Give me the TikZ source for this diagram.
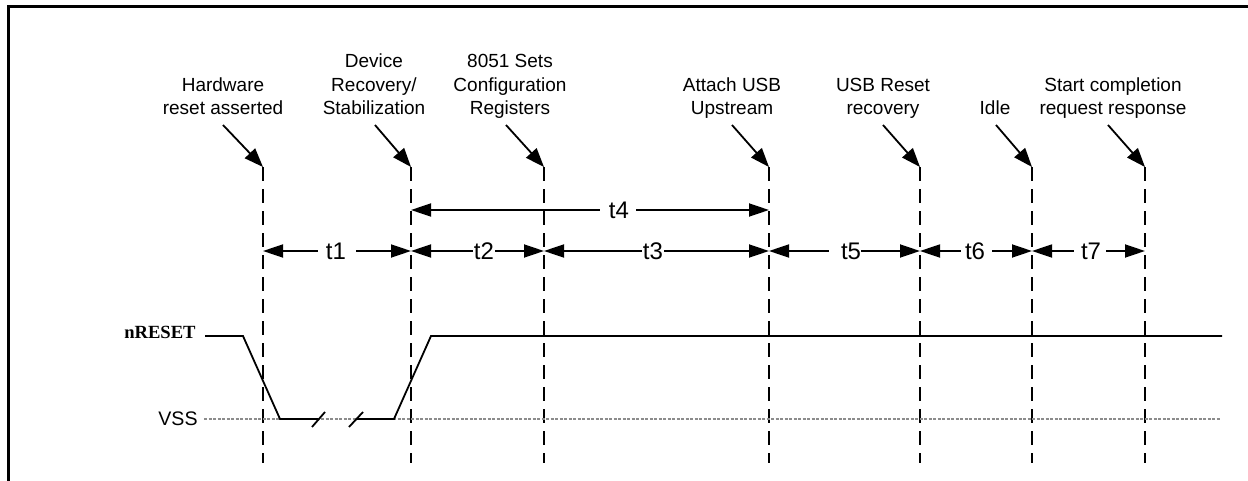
\documentclass[tikz,border=0pt]{standalone}
\usepackage{fontspec}
\setmainfont{Liberation Sans}
\newfontfamily\serifbold{Liberation Serif}
\usetikzlibrary{arrows.meta}
\begin{document}
\begin{tikzpicture}[x=0.5pt,y=-0.5pt,
  lbl/.style={align=center,font=\fontsize{9.5}{11.75}\selectfont,inner sep=0pt,text depth=0pt,anchor=south},
  tl/.style={font=\fontsize{12}{14}\selectfont,inner sep=0pt},
  ann/.style={line width=0.9pt,-{Triangle[length=9.5pt,width=7pt]}},
  dim/.style={line width=0.9pt,-{Triangle[length=10pt,width=6.5pt]}},
  vline/.style={line width=1.4pt,dash pattern=on 7pt off 4pt},
  wave/.style={line width=0.9pt},
  vss/.style={line width=1.1pt,color=black!45,dash pattern=on 1.5pt off 0.75pt},
  frame/.style={line width=1.5pt}]
\useasboundingbox (0,0) rectangle (1248,481);
\draw[frame] (8,481) -- (8,7) -- (1248,7);

% vertical dashed marker lines
\foreach \i/\x in {1/263,2/411,3/544,4/769,5/920,6/1032,7/1145}{
  \coordinate (L\i) at (\x,167);
  \coordinate (B\i) at (\x,463);
  \draw[vline] (L\i) -- (B\i);
}

% event labels
\node[lbl] (h1) at (223,115) {Hardware\\reset asserted};
\node[lbl] (h2) at (374,115) {Device\\Recovery/\\Stabilization};
\node[lbl] (h3) at (510,115) {8051 Sets\\Configuration\\Registers};
\node[lbl] (h4) at (732,115) {Attach USB\\Upstream};
\node[lbl] (h5) at (883,115) {USB Reset\\recovery};
\node[lbl] (h6) at (995,115) {Idle};
\node[lbl] (h7) at (1113,115) {Start completion\\request response};

\draw[ann] ([yshift=-5pt]h1.south) -- (L1);
\draw[ann] ([xshift=0.5pt,yshift=-5pt]h2.south) -- (L2);
\draw[ann] ([xshift=-2pt,yshift=-5pt]h3.south) -- (L3);
\draw[ann] ([yshift=-5pt]h4.south) -- (L4);
\draw[ann] ([yshift=-5pt]h5.south) -- (L5);
\draw[ann] ([xshift=0.5pt,yshift=-5pt]h6.south) -- (L6);
\draw[ann] ([xshift=-2.5pt,yshift=-5pt]h7.south) -- (L7);

% interval labels
\node[tl] (t1) at (336,251) {t1};
\node[tl] (t2) at (484,251) {t2};
\node[tl] (t3) at (653,251) {t3};
\node[tl] (t4) at (619,210) {t4};
\node[tl] (t5) at (851,251) {t5};
\node[tl] (t6) at (975,251) {t6};
\node[tl] (t7) at (1091,251) {t7};

\draw[dim] ([xshift=-4pt]t1.west) -- (t1.west -| L1);
\draw[dim] ([xshift=5pt]t1.east) -- (t1.east -| L2);
\draw[dim] ([xshift=-0.5pt]t2.west) -- (t2.west -| L2);
\draw[dim] ([xshift=0.5pt]t2.east) -- (t2.east -| L3);
\draw[dim] ([xshift=-0.5pt]t3.west) -- (t3.west -| L3);
\draw[dim] ([xshift=0.5pt]t3.east) -- (t3.east -| L4);
\draw[dim] ([xshift=-4.5pt]t4.west) -- (t4.west -| L2);
\draw[dim] ([xshift=3.5pt]t4.east) -- (t4.east -| L4);
\draw[dim] ([xshift=-6pt]t5.west) -- (t5.west -| L4);
\draw[dim] (t5.east) -- (t5.east -| L5);
\draw[dim] ([xshift=-2pt]t6.west) -- (t6.west -| L5);
\draw[dim] ([xshift=3.5pt]t6.east) -- (t6.east -| L6);
\draw[dim] ([xshift=-3.5pt]t7.west) -- (t7.west -| L6);
\draw[dim] ([xshift=2.5pt]t7.east) -- (t7.east -| L7);

% signal names
\node[font=\serifbold\bfseries\fontsize{9.3}{10}\selectfont,anchor=east,inner sep=0pt] (nr) at (196,332) {nRESET};
\node[font=\fontsize{9.8}{11}\selectfont,anchor=east,inner sep=0pt] (vs) at (198,419) {VSS};

% VSS reference line
\draw[vss] (204,419) -- (1220,419);

% nRESET waveform
\draw[wave] (205,336) -- (243,336) -- (280,419) -- (318,419);
\draw[wave] (312,427) -- (325,412);
\draw[wave] (349,427) -- (363,412);
\draw[wave] (356,419) -- (394,419) -- (431,336) -- (1222,336);
\end{tikzpicture}
\end{document}
